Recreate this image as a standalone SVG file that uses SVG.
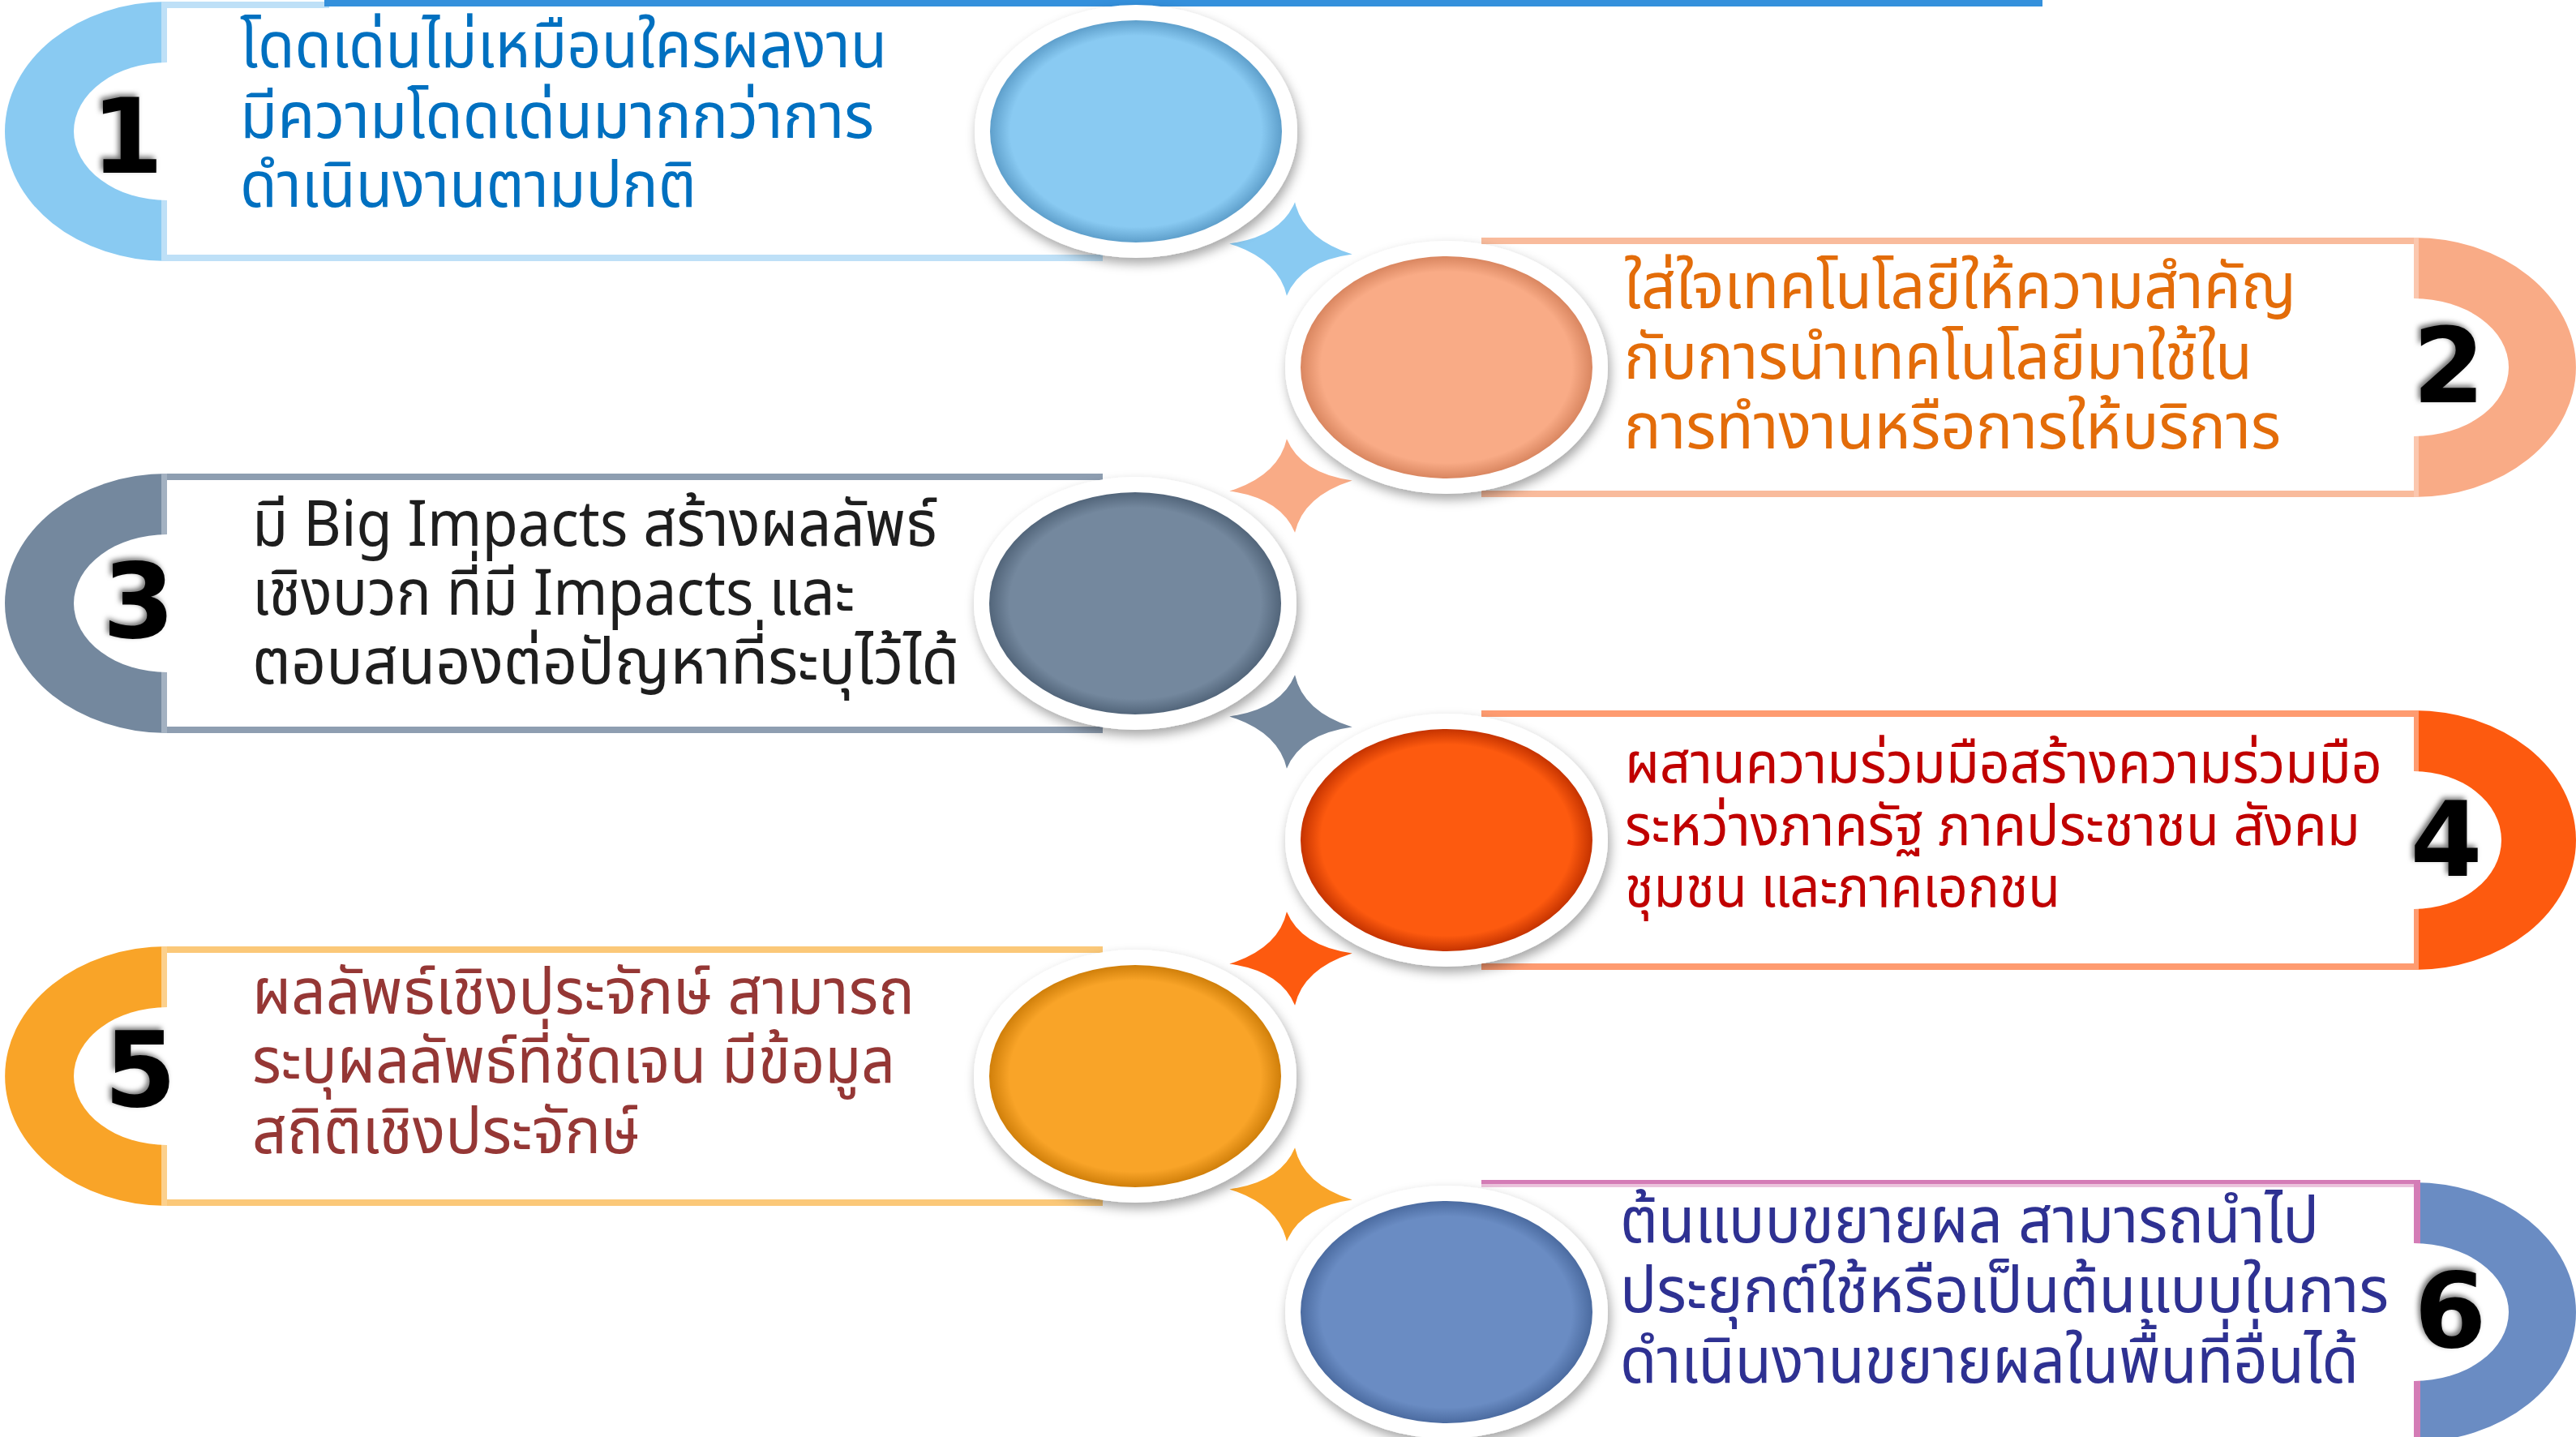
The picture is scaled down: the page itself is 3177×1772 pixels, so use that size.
<svg xmlns="http://www.w3.org/2000/svg" width="3177" height="1772" viewBox="0 0 3177 1772">
<style>
.num{font-family:"DejaVu Sans","Liberation Sans",sans-serif;font-weight:bold;font-size:128px;fill:#000;filter:url(#numSh)}
.t{font-family:"Noto Sans Thai","Noto Sans Thai UI","Noto Sans","DejaVu Sans",sans-serif;font-size:78px}
.ring{fill:#fff;filter:url(#cirSh)}
</style>
<defs>
<filter id="numSh" x="-30%" y="-30%" width="160%" height="160%"><feDropShadow dx="-3" dy="-3" stdDeviation="3" flood-color="#000" flood-opacity="0.55"/></filter>
<filter id="cirSh" x="-20%" y="-20%" width="140%" height="150%"><feDropShadow dx="3" dy="7" stdDeviation="7" flood-color="#000" flood-opacity="0.35"/></filter>
<radialGradient id="g1"><stop offset="0.86" stop-color="#89CAF2"/><stop offset="1" stop-color="#5E9FCB"/></radialGradient>
<radialGradient id="g2"><stop offset="0.86" stop-color="#F9AB86"/><stop offset="1" stop-color="#D98660"/></radialGradient>
<radialGradient id="g3"><stop offset="0.86" stop-color="#74889E"/><stop offset="1" stop-color="#52657A"/></radialGradient>
<radialGradient id="g4"><stop offset="0.86" stop-color="#FD5A0F"/><stop offset="1" stop-color="#C53300"/></radialGradient>
<radialGradient id="g5"><stop offset="0.86" stop-color="#F9A428"/><stop offset="1" stop-color="#D07F0A"/></radialGradient>
<radialGradient id="g6"><stop offset="0.86" stop-color="#6A8CC3"/><stop offset="1" stop-color="#4B6BA0"/></radialGradient>
<path id="star" d="M0,-58 Q14,-14 76,0 Q14,14 0,58 Q-14,14 -76,0 Q-14,-14 0,-58 Z"/>
</defs>
<rect width="3177" height="1772" fill="#fff"/>

<g id="connectors">
<use href="#star" fill="#89CAF2" transform="translate(1592,307) rotate(5)"/>
<use href="#star" fill="#F9AB86" transform="translate(1592,599) rotate(-5)"/>
<use href="#star" fill="#74889E" transform="translate(1592,890) rotate(5)"/>
<use href="#star" fill="#FD5A0F" transform="translate(1592,1182) rotate(-5)"/>
<use href="#star" fill="#F9A428" transform="translate(1592,1473) rotate(5)"/>
</g>

<g id="node1">
<rect x="206" y="2" width="200" height="8" fill="#BEE0F7"/>
<rect x="400" y="0" width="2119" height="8" fill="#3490DC"/>
<rect x="206" y="314" width="1154" height="8" fill="#BEE0F7"/>
<path d="M206,2 A200,160 0 0 0 206,322 Z" fill="#89CAF2"/>
<rect x="199" y="2" width="7" height="320" fill="#BEE0F7"/>
<path d="M206,77 A115,85 0 0 0 206,247 Z" fill="#fff"/>
<text class="num" x="157" y="213" text-anchor="middle">1</text>
<ellipse class="ring" cx="1401" cy="162" rx="199" ry="156"/>
<ellipse cx="1401" cy="162" rx="180" ry="137" fill="url(#g1)"/>
<text class="t" fill="#0070C0"><tspan x="296" y="83" textLength="798" lengthAdjust="spacingAndGlyphs">โดดเด่นไม่เหมือนใครผลงาน</tspan><tspan x="296" y="170" textLength="782" lengthAdjust="spacingAndGlyphs">มีความโดดเด่นมากกว่าการ</tspan><tspan x="296" y="255" textLength="563" lengthAdjust="spacingAndGlyphs">ดำเนินงานตามปกติ</tspan></text>
</g>

<g id="node2">
<rect x="1827" y="293" width="1150" height="8" fill="#F9BB9C"/>
<rect x="1827" y="605" width="1150" height="8" fill="#F9BB9C"/>
<path d="M2977,293 A200,160 0 0 1 2977,613 Z" fill="#F9AB86"/>
<rect x="2977" y="293" width="6" height="320" fill="#FBC7AE"/>
<path d="M2977,368 A117,85 0 0 1 2977,538 Z" fill="#fff"/>
<text class="num" x="3020" y="496" text-anchor="middle">2</text>
<ellipse class="ring" cx="1784" cy="453" rx="199" ry="156"/>
<ellipse cx="1784" cy="453" rx="180" ry="137" fill="url(#g2)"/>
<text class="t" fill="#E36C09"><tspan x="2003" y="380" textLength="829" lengthAdjust="spacingAndGlyphs">ใส่ใจเทคโนโลยีให้ความสำคัญ</tspan><tspan x="2003" y="467" textLength="775" lengthAdjust="spacingAndGlyphs">กับการนำเทคโนโลยีมาใช้ใน</tspan><tspan x="2003" y="553" textLength="810" lengthAdjust="spacingAndGlyphs">การทำงานหรือการให้บริการ</tspan></text>
</g>

<g id="node3">
<rect x="206" y="584" width="1154" height="8" fill="#8E9EB1"/>
<rect x="206" y="896" width="1154" height="8" fill="#8E9EB1"/>
<path d="M206,584 A200,160 0 0 0 206,904 Z" fill="#74889E"/>
<rect x="199" y="584" width="7" height="320" fill="#A3B1C1"/>
<path d="M206,659 A115,85 0 0 0 206,829 Z" fill="#fff"/>
<text class="num" x="171" y="786" text-anchor="middle">3</text>
<ellipse class="ring" cx="1400" cy="744" rx="199" ry="156"/>
<ellipse cx="1400" cy="744" rx="180" ry="137" fill="url(#g3)"/>
<text class="t" fill="#1E1E1E"><tspan x="311" y="673" textLength="845" lengthAdjust="spacingAndGlyphs">มี Big Impacts สร้างผลลัพธ์</tspan><tspan x="311" y="758" textLength="743" lengthAdjust="spacingAndGlyphs">เชิงบวก ที่มี Impacts และ</tspan><tspan x="311" y="843" textLength="872" lengthAdjust="spacingAndGlyphs">ตอบสนองต่อปัญหาที่ระบุไว้ได้</tspan></text>
</g>

<g id="node4">
<rect x="1827" y="876" width="1150" height="8" fill="#FE9B70"/>
<rect x="1827" y="1188" width="1150" height="8" fill="#FE9B70"/>
<path d="M2977,876 A200,160 0 0 1 2977,1196 Z" fill="#FD5A0F"/>
<rect x="2977" y="876" width="6" height="320" fill="#FE9B70"/>
<path d="M2977,951 A108,85 0 0 1 2977,1121 Z" fill="#fff"/>
<text class="num" x="3017" y="1080" text-anchor="middle">4</text>
<ellipse class="ring" cx="1784" cy="1036" rx="199" ry="156"/>
<ellipse cx="1784" cy="1036" rx="180" ry="137" fill="url(#g4)"/>
<text class="t" fill="#C00000" style="font-size:70px"><tspan x="2004" y="965" textLength="934" lengthAdjust="spacingAndGlyphs">ผสานความร่วมมือสร้างความร่วมมือ</tspan><tspan x="2004" y="1042" textLength="907" lengthAdjust="spacingAndGlyphs">ระหว่างภาครัฐ ภาคประชาชน สังคม</tspan><tspan x="2004" y="1118" textLength="537" lengthAdjust="spacingAndGlyphs">ชุมชน และภาคเอกชน</tspan></text>
</g>

<g id="node5">
<rect x="206" y="1167" width="1154" height="8" fill="#FBC878"/>
<rect x="206" y="1479" width="1154" height="8" fill="#FBC878"/>
<path d="M206,1167 A200,160 0 0 0 206,1487 Z" fill="#F9A428"/>
<rect x="199" y="1167" width="7" height="320" fill="#FCD08C"/>
<path d="M206,1242 A115,85 0 0 0 206,1412 Z" fill="#fff"/>
<text class="num" x="173" y="1364" text-anchor="middle">5</text>
<ellipse class="ring" cx="1400" cy="1327" rx="199" ry="156"/>
<ellipse cx="1400" cy="1327" rx="180" ry="137" fill="url(#g5)"/>
<text class="t" fill="#953735"><tspan x="311" y="1250" textLength="817" lengthAdjust="spacingAndGlyphs">ผลลัพธ์เชิงประจักษ์ สามารถ</tspan><tspan x="311" y="1335" textLength="793" lengthAdjust="spacingAndGlyphs">ระบุผลลัพธ์ที่ชัดเจน มีข้อมูล</tspan><tspan x="311" y="1422" textLength="478" lengthAdjust="spacingAndGlyphs">สถิติเชิงประจักษ์</tspan></text>
</g>

<g id="node6">
<rect x="1827" y="1455" width="1150" height="5" fill="#D47CB6"/>
<rect x="1827" y="1460" width="1150" height="4" fill="#EBC3DC"/>
<path d="M2977,1458 A200,160 0 0 1 2977,1778 Z" fill="#6A8CC3"/>
<rect x="2977" y="1455" width="8" height="320" fill="#D47CB6"/>
<path d="M2977,1533 A117,85 0 0 1 2977,1703 Z" fill="#fff"/>
<text class="num" x="3022" y="1661" text-anchor="middle">6</text>
<ellipse class="ring" cx="1784" cy="1618" rx="199" ry="156"/>
<ellipse cx="1784" cy="1618" rx="180" ry="137" fill="url(#g6)"/>
<text class="t" fill="#2E3192"><tspan x="1998" y="1532" textLength="862" lengthAdjust="spacingAndGlyphs">ต้นแบบขยายผล สามารถนำไป</tspan><tspan x="1998" y="1618" textLength="948" lengthAdjust="spacingAndGlyphs">ประยุกต์ใช้หรือเป็นต้นแบบในการ</tspan><tspan x="1998" y="1705" textLength="911" lengthAdjust="spacingAndGlyphs">ดำเนินงานขยายผลในพื้นที่อื่นได้</tspan></text>
</g>
</svg>
